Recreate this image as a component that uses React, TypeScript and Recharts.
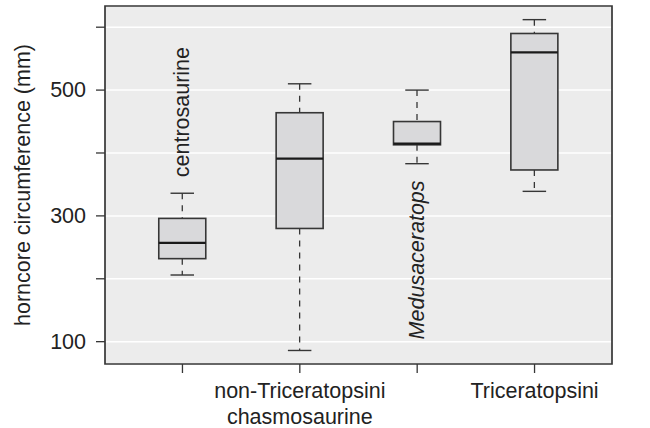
import React from 'react';
import { ComposedChart, Bar, Scatter, XAxis, YAxis, CartesianGrid, ReferenceArea } from 'recharts';

// box plot statistics per group (mm)
const positions = [1, 2, 3, 4];
const lowerWhisker = [206, 86, 383, 339];
const q1 = [232, 280, 413, 373];
const median = [257, 391, 415, 560];
const q3 = [296, 464, 450, 590];
const upperWhisker = [336, 510, 500, 612];

// x tick labels (two groups are labelled inside the panel instead)
const tickLabels: string[][] = [[], ['non-Triceratopsini', 'chasmosaurine'], [], ['Triceratopsini']];

// in-panel annotations
const annoText = ['centrosaurine', 'Medusaceratops'];
const annoX = [1, 3];
const annoY = [465, 230];
const annoItalic = [false, true];

const yTicks = [100, 200, 300, 400, 500, 600];
const yLabelled = [100, 300, 500];
const xDomain = [0.34, 4.66];
const yDomain = [64.5, 633.7];

const FONT = '"Liberation Sans", Arial, sans-serif';
const INK = '#222';
const LINE = '#363636';

const boxData = positions.map((p, i) => ({
  pos: p,
  lo: lowerWhisker[i],
  q1: q1[i],
  med: median[i],
  q3: q3[i],
  hi: upperWhisker[i],
}));

const annoData = annoText.map((t, i) => ({ pos: annoX[i], val: annoY[i], text: t, italic: annoItalic[i] }));

// draws whiskers, box and median; endpoints come from the bar's range [lo, hi]
const BoxShape = (props: any) => {
  const { x, y, width, height, payload } = props;
  const top = Math.min(y, y + height);
  const bottom = Math.max(y, y + height);
  const { lo, hi } = payload;
  const py = (v: number) => bottom - ((v - lo) / (hi - lo)) * (bottom - top);
  const cx = x + width / 2;
  const cap = width / 4;
  return (
    <g>
      <line x1={cx} x2={cx} y1={py(payload.hi)} y2={py(payload.q3)} stroke={LINE} strokeWidth={1.3} strokeDasharray="6 6" />
      <line x1={cx} x2={cx} y1={py(payload.q1)} y2={py(payload.lo)} stroke={LINE} strokeWidth={1.3} strokeDasharray="6 6" />
      <line x1={cx - cap} x2={cx + cap} y1={py(payload.hi)} y2={py(payload.hi)} stroke={LINE} strokeWidth={1.4} />
      <line x1={cx - cap} x2={cx + cap} y1={py(payload.lo)} y2={py(payload.lo)} stroke={LINE} strokeWidth={1.4} />
      <rect x={x} y={py(payload.q3)} width={width} height={py(payload.q1) - py(payload.q3)} fill="#d9d9db" stroke={LINE} strokeWidth={1.6} />
      <line x1={x} x2={x + width} y1={py(payload.med)} y2={py(payload.med)} stroke="#1a1a1a" strokeWidth={2.3} />
    </g>
  );
};

const AnnoShape = (props: any) => {
  const { cx, cy, payload } = props;
  return (
    <text
      x={cx}
      y={cy}
      transform={`rotate(-90, ${cx}, ${cy})`}
      textAnchor="middle"
      dominantBaseline="central"
      fontFamily={FONT}
      fontSize={21.5}
      fontStyle={payload.italic ? 'italic' : 'normal'}
      fill={INK}
    >
      {payload.text}
    </text>
  );
};

const YTick = (props: any) => {
  const { x, y, payload } = props;
  if (!yLabelled.includes(payload.value)) return <g />;
  return (
    <text x={x} y={y} textAnchor="end" dominantBaseline="central" fontFamily={FONT} fontSize={21.5} fill={INK}>
      {payload.value}
    </text>
  );
};

const XTick = (props: any) => {
  const { x, y, payload } = props;
  const lines = tickLabels[positions.indexOf(payload.value)] || [];
  return (
    <g>
      {lines.map((l, i) => (
        <text key={i} x={x} y={y + 18 + i * 26} textAnchor="middle" dominantBaseline="central" fontFamily={FONT} fontSize={21.5} fill={INK}>
          {l}
        </text>
      ))}
    </g>
  );
};

export default function App() {
  return (
    <div style={{ position: 'absolute', left: 0, top: 0, width: 650, height: 428, background: '#fff' }}>
      <ComposedChart width={650} height={428} data={boxData} margin={{ top: 6, right: 38, left: 0, bottom: 0 }}>
        <CartesianGrid vertical={false} stroke="#fff" strokeWidth={1.5} fill="#ececec" />
        <XAxis
          dataKey="pos"
          type="number"
          domain={xDomain}
          allowDataOverflow
          ticks={positions}
          height={64}
          axisLine={false}
          tickLine={{ stroke: LINE, strokeWidth: 1.3 }}
          tickSize={9}
          tickMargin={0}
          tick={<XTick />}
        />
        <YAxis
          type="number"
          domain={yDomain}
          allowDataOverflow
          ticks={yTicks}
          width={105}
          axisLine={false}
          tickLine={{ stroke: LINE, strokeWidth: 1.3 }}
          tickSize={9}
          tickMargin={10}
          tick={<YTick />}
          label={{
            content: (p: any) => {
              const vb = p.viewBox;
              const lx = vb.x + 23;
              const ly = vb.y + vb.height / 2;
              return (
                <text x={lx} y={ly} transform={`rotate(-90, ${lx}, ${ly})`} textAnchor="middle" dominantBaseline="central" fontFamily={FONT} fontSize={21.5} fill={INK}>
                  horncore circumference (mm)
                </text>
              );
            },
          }}
        />
        <Bar dataKey={(d: any) => [d.lo, d.hi]} barSize={47} shape={<BoxShape />} isAnimationActive={false} />
        <Scatter data={annoData} dataKey="val" shape={<AnnoShape />} isAnimationActive={false} />
        <ReferenceArea x1={xDomain[0]} x2={xDomain[1]} y1={yDomain[0]} y2={yDomain[1]} fill="none" stroke={LINE} strokeWidth={1.7} ifOverflow="visible" />
      </ComposedChart>
    </div>
  );
}
